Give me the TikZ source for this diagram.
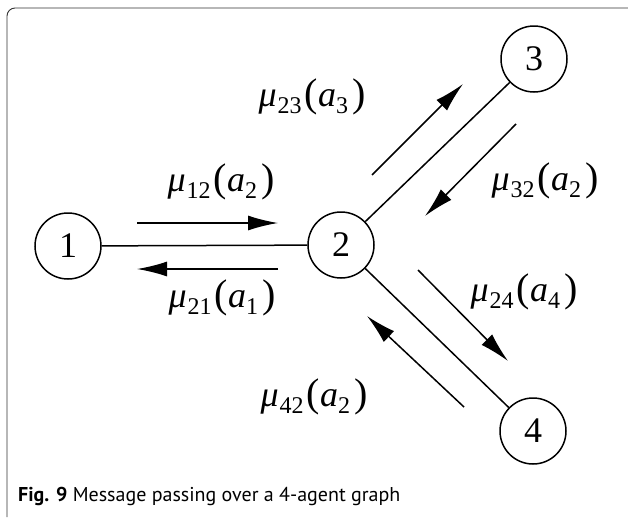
\documentclass[tikz,border=0pt]{standalone}
\usepackage{fontspec}
\setmainfont{Liberation Serif}
\setsansfont{PT Sans}
\usetikzlibrary{arrows.meta}
\newcommand{\subsz}{\fontsize{24}{24}\selectfont}
\newcommand{\parsz}{\fontsize{40}{40}\selectfont}
\newcommand{\msglab}[2]{\textit{μ}\kern1pt\raisebox{-7pt}{\subsz #1}\kern3pt{\parsz(}\textit{a}\raisebox{-7pt}{\subsz #2}\kern4pt{\parsz)}}
\begin{document}
\begin{tikzpicture}[x=1pt,y=-1pt,
  agent/.style={circle,draw,line width=1.5pt,minimum size=66pt,inner sep=0pt,font=\fontsize{36}{36}\selectfont},
  edge/.style={line width=1.5pt},
  msg/.style={line width=1.5pt,-{Latex[length=30pt,width=15pt]}},
  lab/.style={font=\fontsize{36}{36}\selectfont,inner sep=0pt}]
\useasboundingbox (0,0) rectangle (628,517);
\draw[line width=0.9pt,draw=black!80,rounded corners=8pt] (7,517) -- (7,8) -- (628,8);
\node[agent] (n1) at (68,246) {1};
\node[agent] (n2) at (341,245) {2};
\node[agent] (n3) at (534,59) {3};
\node[agent] (n4) at (533,431) {4};
\draw[edge] (n1) -- (n2);
\draw[edge] (n2) -- (n3);
\draw[edge] (n2) -- (n4);
\coordinate (a12s) at (137,223); \coordinate (a12e) at (278,223);
\coordinate (a21s) at (278,269); \coordinate (a21e) at (137,269);
\coordinate (a23s) at (372,175); \coordinate (a23e) at (463,84);
\coordinate (a32s) at (516,124); \coordinate (a32e) at (425,216);
\coordinate (a24s) at (418,270); \coordinate (a24e) at (508,361);
\coordinate (a42s) at (464,407); \coordinate (a42e) at (367,316);
\draw[msg] (a12s) -- (a12e);
\draw[msg] (a21s) -- (a21e);
\draw[msg] (a23s) -- (a23e);
\draw[msg] (a32s) -- (a32e);
\draw[msg] (a24s) -- (a24e);
\draw[msg] (a42s) -- (a42e);
\node[lab] (l12) at (221,182) {\msglab{12}{2}};
\node[lab] (l21) at (222,298) {\msglab{21}{1}};
\node[lab] (l23) at (312,97) {\msglab{23}{3}};
\node[lab] (l32) at (545,181) {\msglab{32}{2}};
\node[lab] (l24) at (524,292) {\msglab{24}{4}};
\node[lab] (l42) at (314,397) {\msglab{42}{2}};
\node[anchor=base west,inner sep=0pt,font=\sffamily\fontsize{20}{20}\selectfont] (cap) at (18,501) {\textbf{Fig. 9} Message passing over a 4-agent graph};
\end{tikzpicture}
\end{document}
